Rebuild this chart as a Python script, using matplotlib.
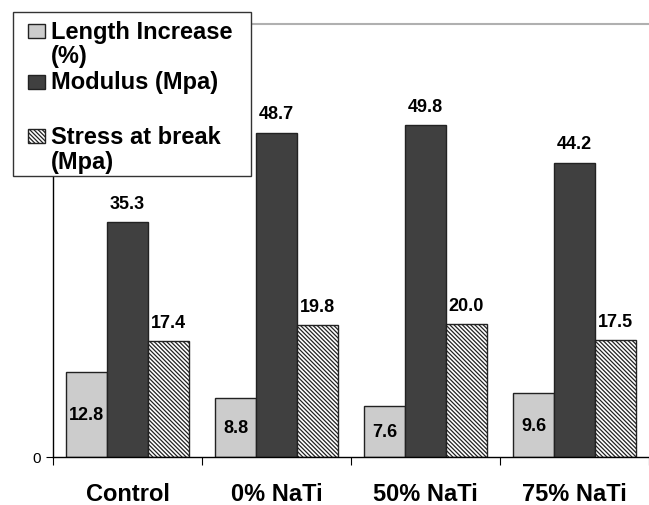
import matplotlib.pyplot as plt
from matplotlib.patches import Rectangle
import numpy as np

plt.rcParams['font.family'] = ['Liberation Sans', 'DejaVu Sans']
plt.rcParams['hatch.linewidth'] = 0.9

groups = ["Control", "0% NaTi", "50% NaTi", "75% NaTi"]
length_inc = [12.8, 8.8, 7.6, 9.6]
modulus = [35.3, 48.7, 49.8, 44.2]
stress = [17.4, 19.8, 20.0, 17.5]
legend_lines = [["Length Increase", "(%)"], ["Modulus (Mpa)"], ["Stress at break", "(Mpa)"]]

W, H = 649, 506
fig = plt.figure(figsize=(W / 100, H / 100), dpi=100)
ax = fig.add_axes([53 / W, 48 / H, 596 / W, 433 / H])

HATCH = '\\\\\\\\\\\\\\\\'
x = np.arange(len(groups))
bw = 0.273
ax.bar(x - bw, length_inc, bw, color='#cccccc', edgecolor='#222222', linewidth=1)
ax.bar(x, modulus, bw, color='#404040', edgecolor='#222222', linewidth=1)
ax.bar(x + bw, stress, bw, color='white', edgecolor='#222222', linewidth=1, hatch=HATCH)

for xi, v in zip(x - bw, length_inc):
    ax.text(xi, v / 2, f"{v:.1f}", ha='center', va='center', fontsize=13, fontweight='bold')
for xs, vals in [(x, modulus), (x + bw, stress)]:
    for xi, v in zip(xs, vals):
        ax.annotate(f"{v:.1f}", (xi, v), xytext=(0, 13.5), textcoords='offset points',
                    ha='center', va='center', fontsize=13, fontweight='bold')

ax.set_xlim(-0.5, -0.5 + 596 / 150)
ax.set_ylim(0, 65)
ax.axhline(65, color='#b0b0b0', linewidth=1.5, clip_on=False)

ax.set_xticks(np.arange(-0.5, 4, 1))
ax.set_xticklabels([])
ax.set_xticks(x, minor=True)
ax.set_xticklabels(groups, minor=True, fontsize=17, fontweight='bold')
ax.tick_params(axis='x', which='major', length=6, direction='out', color='black')
ax.tick_params(axis='x', which='minor', length=0, pad=18)
ax.set_yticks([0])
ax.tick_params(axis='y', length=5, pad=4, labelsize=11)

for s in ['top', 'right']:
    ax.spines[s].set_visible(False)
for s in ['left', 'bottom']:
    ax.spines[s].set_linewidth(1)


def fpx(px, py):
    return px / W, 1 - py / H


# legend drawn by hand to keep the reference's layout
lx0, ly0, lx1, ly1 = 13, 13, 251, 177
fig.add_artist(Rectangle(fpx(lx0, ly1), (lx1 - lx0) / W, (ly1 - ly0) / H,
                         transform=fig.transFigure, facecolor='white',
                         edgecolor='#333333', linewidth=1, zorder=10))
styles = [dict(facecolor='#cccccc'), dict(facecolor='#404040'),
          dict(facecolor='white', hatch=HATCH)]
rows = [[32, 57], [83], [137, 163]]
for lines, st, ys in zip(legend_lines, styles, rows):
    sx, sy = 28, ys[0]
    fig.add_artist(Rectangle(fpx(sx, sy + 7), 17 / W, 14 / H, transform=fig.transFigure,
                             edgecolor='#222222', linewidth=1, zorder=11, **st))
    for txt, yy in zip(lines, ys):
        tx, ty = fpx(51, yy)
        fig.text(tx, ty, txt, ha='left', va='center', fontsize=17, fontweight='bold',
                 zorder=12)

fig.savefig("out.png", dpi=100)
